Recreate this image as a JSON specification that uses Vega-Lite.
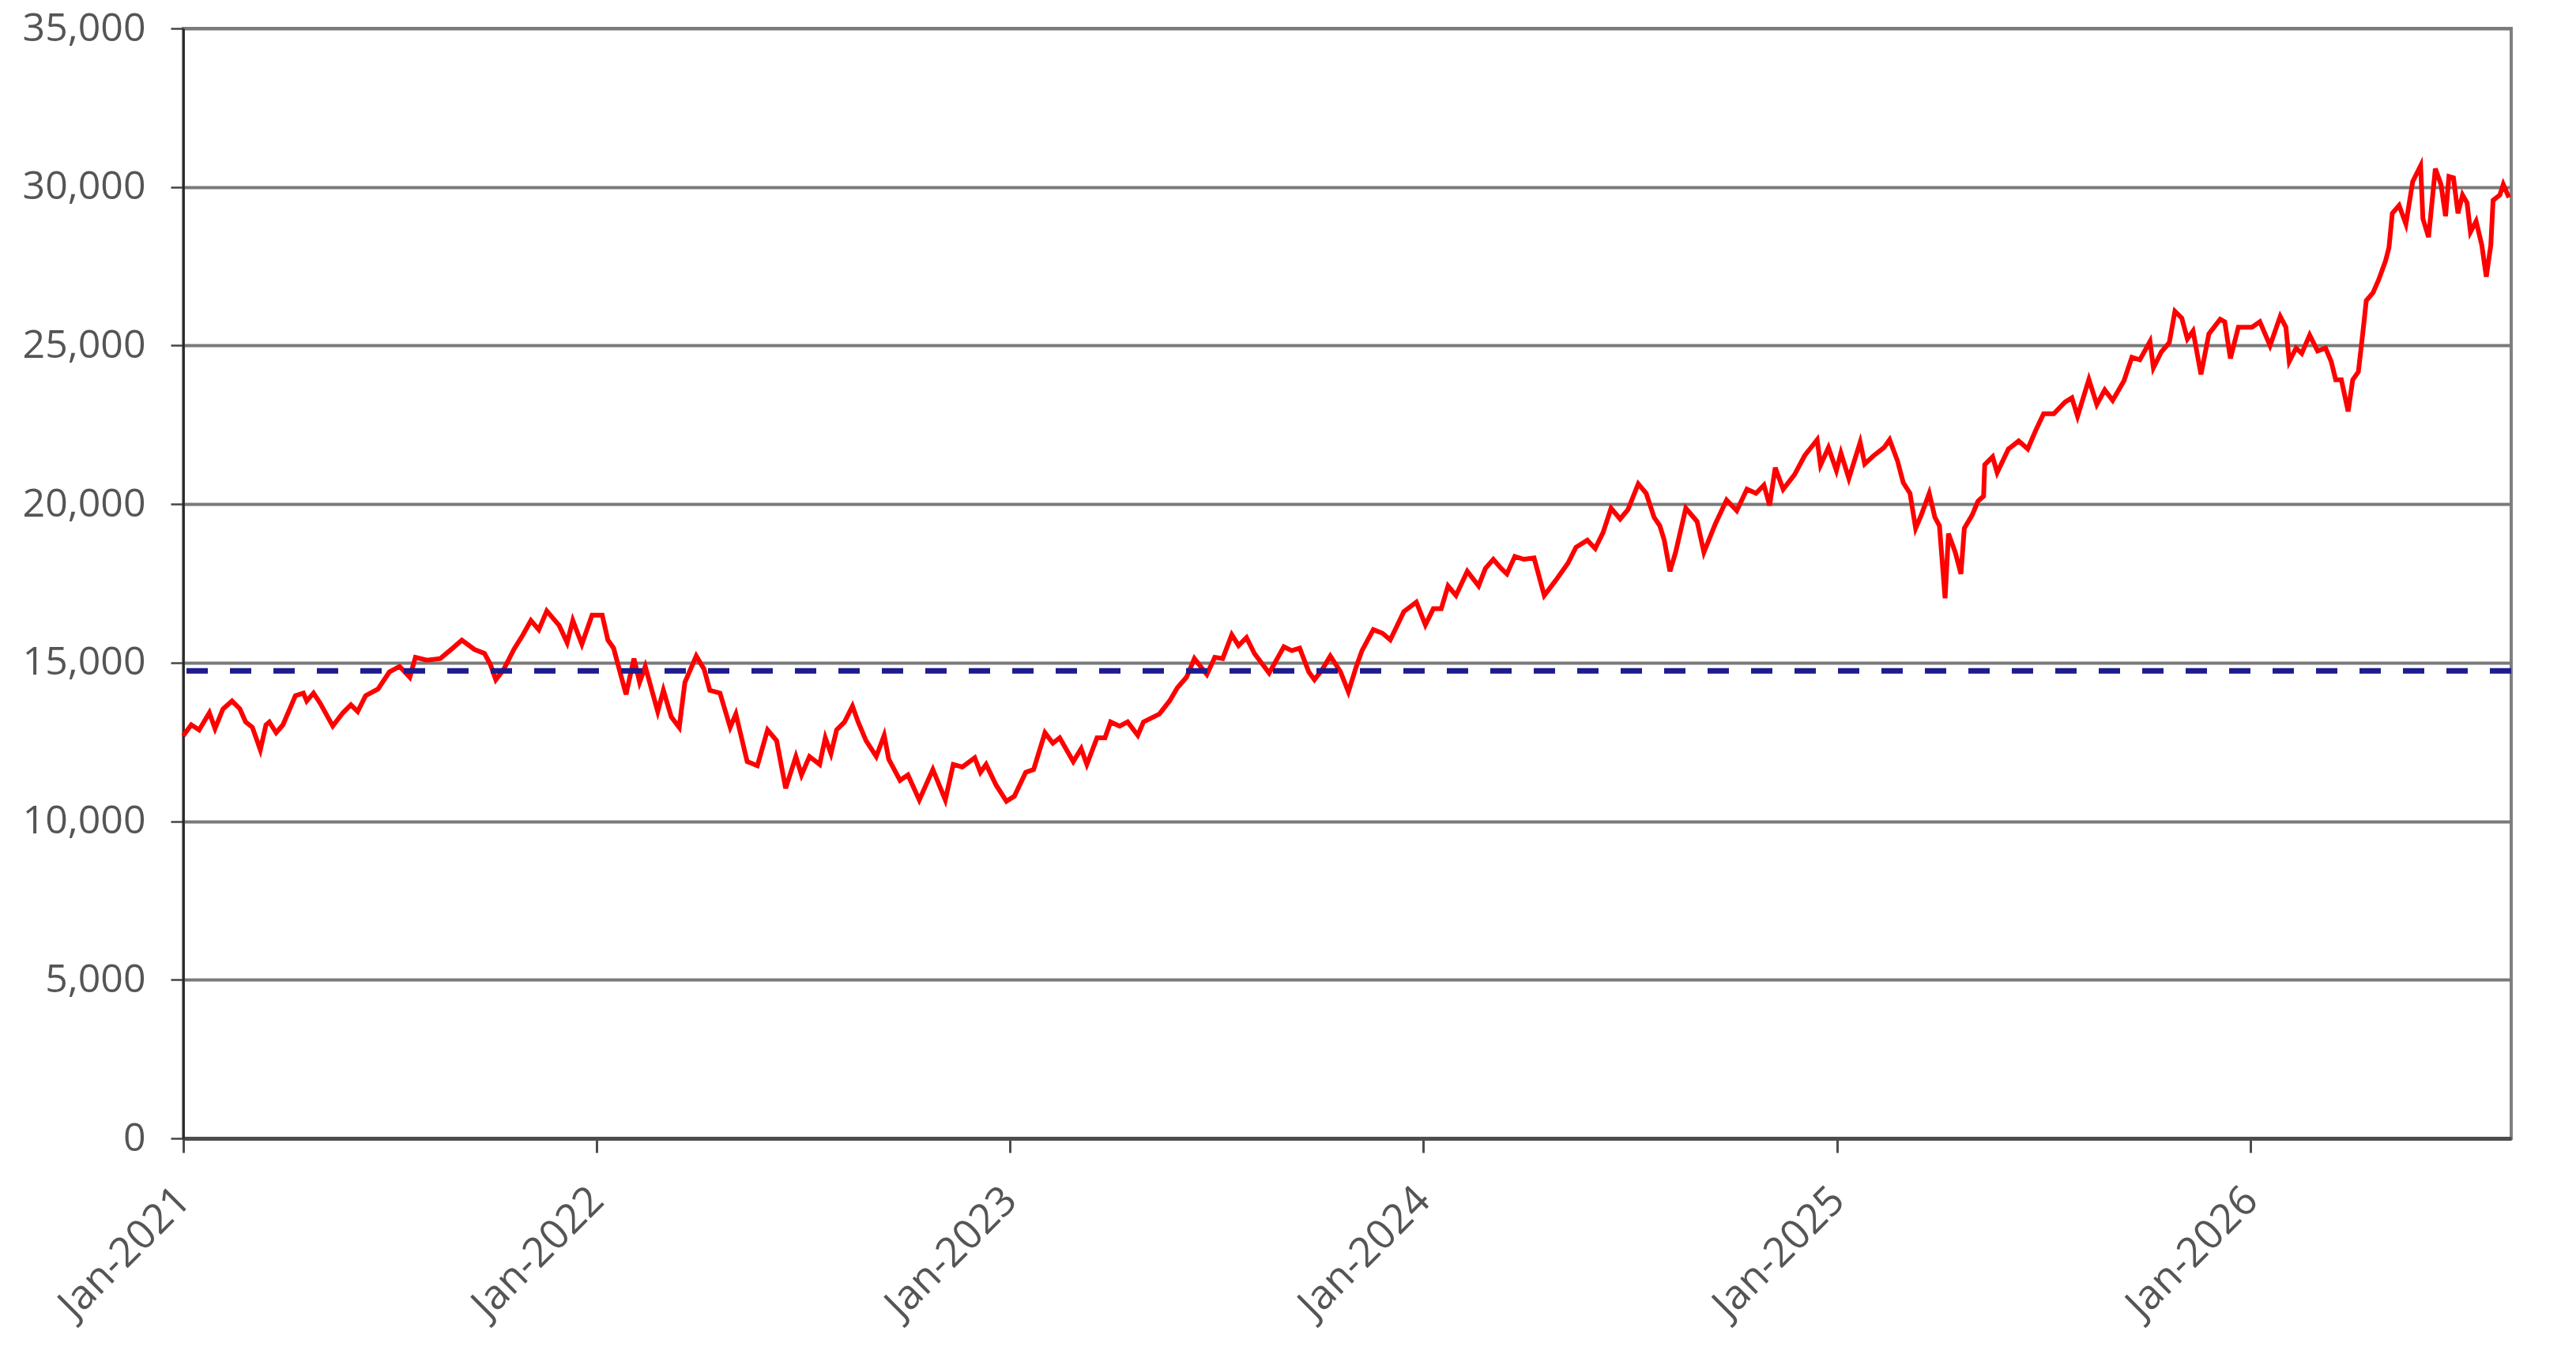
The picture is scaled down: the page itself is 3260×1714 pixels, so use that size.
{
  "$schema": "https://vega.github.io/schema/vega-lite/v6.json",
  "width": 2946,
  "height": 1405,
  "autosize": {"type": "none"},
  "padding": {"left": 232, "top": 36, "right": 82, "bottom": 273},
  "background": "white",
  "config": {
    "font": "Open Sans",
    "view": {"stroke": "#808080", "strokeWidth": 4}
  },
  "layer": [
    {
      "data": {
        "values": [
          {"date": "2021-01-01", "value": 12700},
          {"date": "2021-01-08", "value": 13040},
          {"date": "2021-01-15", "value": 12880},
          {"date": "2021-01-24", "value": 13420},
          {"date": "2021-01-29", "value": 12920},
          {"date": "2021-02-05", "value": 13540},
          {"date": "2021-02-13", "value": 13790},
          {"date": "2021-02-20", "value": 13540},
          {"date": "2021-02-25", "value": 13130},
          {"date": "2021-03-03", "value": 12960},
          {"date": "2021-03-10", "value": 12250},
          {"date": "2021-03-15", "value": 13040},
          {"date": "2021-03-18", "value": 13130},
          {"date": "2021-03-24", "value": 12790},
          {"date": "2021-03-30", "value": 13040},
          {"date": "2021-04-10", "value": 13960},
          {"date": "2021-04-17", "value": 14040},
          {"date": "2021-04-20", "value": 13790},
          {"date": "2021-04-26", "value": 14040},
          {"date": "2021-05-02", "value": 13710},
          {"date": "2021-05-13", "value": 13000},
          {"date": "2021-05-22", "value": 13420},
          {"date": "2021-05-29", "value": 13670},
          {"date": "2021-06-04", "value": 13460},
          {"date": "2021-06-11", "value": 13960},
          {"date": "2021-06-22", "value": 14170},
          {"date": "2021-07-02", "value": 14710},
          {"date": "2021-07-11", "value": 14880},
          {"date": "2021-07-20", "value": 14540},
          {"date": "2021-07-25", "value": 15170},
          {"date": "2021-08-04", "value": 15080},
          {"date": "2021-08-16", "value": 15130},
          {"date": "2021-08-27", "value": 15460},
          {"date": "2021-09-04", "value": 15710},
          {"date": "2021-09-15", "value": 15420},
          {"date": "2021-09-24", "value": 15290},
          {"date": "2021-09-29", "value": 14960},
          {"date": "2021-10-04", "value": 14460},
          {"date": "2021-10-11", "value": 14790},
          {"date": "2021-10-20", "value": 15420},
          {"date": "2021-10-28", "value": 15880},
          {"date": "2021-11-04", "value": 16330},
          {"date": "2021-11-11", "value": 16040},
          {"date": "2021-11-18", "value": 16630},
          {"date": "2021-11-29", "value": 16170},
          {"date": "2021-12-06", "value": 15630},
          {"date": "2021-12-11", "value": 16330},
          {"date": "2021-12-19", "value": 15580},
          {"date": "2021-12-28", "value": 16500},
          {"date": "2022-01-06", "value": 16500},
          {"date": "2022-01-11", "value": 15710},
          {"date": "2022-01-16", "value": 15460},
          {"date": "2022-01-27", "value": 14000},
          {"date": "2022-02-03", "value": 15130},
          {"date": "2022-02-08", "value": 14380},
          {"date": "2022-02-13", "value": 14880},
          {"date": "2022-02-24", "value": 13460},
          {"date": "2022-03-01", "value": 14130},
          {"date": "2022-03-08", "value": 13290},
          {"date": "2022-03-15", "value": 12960},
          {"date": "2022-03-20", "value": 14380},
          {"date": "2022-03-30", "value": 15210},
          {"date": "2022-04-06", "value": 14790},
          {"date": "2022-04-11", "value": 14130},
          {"date": "2022-04-20", "value": 14040},
          {"date": "2022-04-29", "value": 12960},
          {"date": "2022-05-04", "value": 13380},
          {"date": "2022-05-14", "value": 11880},
          {"date": "2022-05-23", "value": 11750},
          {"date": "2022-06-01", "value": 12880},
          {"date": "2022-06-09", "value": 12540},
          {"date": "2022-06-17", "value": 11040},
          {"date": "2022-06-26", "value": 12040},
          {"date": "2022-07-01", "value": 11460},
          {"date": "2022-07-08", "value": 12040},
          {"date": "2022-07-17", "value": 11790},
          {"date": "2022-07-22", "value": 12630},
          {"date": "2022-07-27", "value": 12130},
          {"date": "2022-08-01", "value": 12880},
          {"date": "2022-08-08", "value": 13130},
          {"date": "2022-08-15", "value": 13630},
          {"date": "2022-08-20", "value": 13130},
          {"date": "2022-08-27", "value": 12540},
          {"date": "2022-09-05", "value": 12040},
          {"date": "2022-09-12", "value": 12710},
          {"date": "2022-09-16", "value": 11960},
          {"date": "2022-09-26", "value": 11290},
          {"date": "2022-10-03", "value": 11460},
          {"date": "2022-10-13", "value": 10670},
          {"date": "2022-10-25", "value": 11630},
          {"date": "2022-11-05", "value": 10670},
          {"date": "2022-11-12", "value": 11790},
          {"date": "2022-11-20", "value": 11710},
          {"date": "2022-12-01", "value": 12000},
          {"date": "2022-12-06", "value": 11540},
          {"date": "2022-12-11", "value": 11790},
          {"date": "2022-12-20", "value": 11130},
          {"date": "2022-12-29", "value": 10630},
          {"date": "2023-01-05", "value": 10790},
          {"date": "2023-01-15", "value": 11540},
          {"date": "2023-01-22", "value": 11630},
          {"date": "2023-02-01", "value": 12790},
          {"date": "2023-02-08", "value": 12460},
          {"date": "2023-02-14", "value": 12630},
          {"date": "2023-02-26", "value": 11880},
          {"date": "2023-03-05", "value": 12290},
          {"date": "2023-03-10", "value": 11790},
          {"date": "2023-03-19", "value": 12630},
          {"date": "2023-03-26", "value": 12630},
          {"date": "2023-03-31", "value": 13130},
          {"date": "2023-04-08", "value": 13000},
          {"date": "2023-04-15", "value": 13130},
          {"date": "2023-04-24", "value": 12710},
          {"date": "2023-04-29", "value": 13130},
          {"date": "2023-05-13", "value": 13380},
          {"date": "2023-05-22", "value": 13790},
          {"date": "2023-05-29", "value": 14210},
          {"date": "2023-06-06", "value": 14540},
          {"date": "2023-06-13", "value": 15130},
          {"date": "2023-06-24", "value": 14630},
          {"date": "2023-07-01", "value": 15170},
          {"date": "2023-07-08", "value": 15130},
          {"date": "2023-07-16", "value": 15880},
          {"date": "2023-07-22", "value": 15540},
          {"date": "2023-07-29", "value": 15790},
          {"date": "2023-08-05", "value": 15290},
          {"date": "2023-08-18", "value": 14670},
          {"date": "2023-08-31", "value": 15500},
          {"date": "2023-09-07", "value": 15380},
          {"date": "2023-09-14", "value": 15460},
          {"date": "2023-09-22", "value": 14710},
          {"date": "2023-09-27", "value": 14460},
          {"date": "2023-10-04", "value": 14790},
          {"date": "2023-10-11", "value": 15210},
          {"date": "2023-10-20", "value": 14710},
          {"date": "2023-10-27", "value": 14080},
          {"date": "2023-11-03", "value": 14880},
          {"date": "2023-11-08", "value": 15380},
          {"date": "2023-11-18", "value": 16040},
          {"date": "2023-11-26", "value": 15930},
          {"date": "2023-12-03", "value": 15720},
          {"date": "2023-12-15", "value": 16610},
          {"date": "2023-12-26", "value": 16910},
          {"date": "2024-01-03", "value": 16190},
          {"date": "2024-01-10", "value": 16700},
          {"date": "2024-01-17", "value": 16700},
          {"date": "2024-01-23", "value": 17420},
          {"date": "2024-01-30", "value": 17120},
          {"date": "2024-02-09", "value": 17880},
          {"date": "2024-02-19", "value": 17420},
          {"date": "2024-02-25", "value": 17970},
          {"date": "2024-03-03", "value": 18260},
          {"date": "2024-03-10", "value": 17970},
          {"date": "2024-03-15", "value": 17800},
          {"date": "2024-03-22", "value": 18350},
          {"date": "2024-03-30", "value": 18260},
          {"date": "2024-04-08", "value": 18300},
          {"date": "2024-04-17", "value": 17120},
          {"date": "2024-04-27", "value": 17590},
          {"date": "2024-05-08", "value": 18140},
          {"date": "2024-05-15", "value": 18640},
          {"date": "2024-05-25", "value": 18860},
          {"date": "2024-06-01", "value": 18600},
          {"date": "2024-06-08", "value": 19110},
          {"date": "2024-06-15", "value": 19870},
          {"date": "2024-06-23", "value": 19530},
          {"date": "2024-06-30", "value": 19830},
          {"date": "2024-07-09", "value": 20640},
          {"date": "2024-07-16", "value": 20340},
          {"date": "2024-07-23", "value": 19580},
          {"date": "2024-07-28", "value": 19320},
          {"date": "2024-08-01", "value": 18860},
          {"date": "2024-08-06", "value": 17880},
          {"date": "2024-08-11", "value": 18480},
          {"date": "2024-08-20", "value": 19870},
          {"date": "2024-08-30", "value": 19450},
          {"date": "2024-09-05", "value": 18480},
          {"date": "2024-09-15", "value": 19370},
          {"date": "2024-09-25", "value": 20130},
          {"date": "2024-10-04", "value": 19790},
          {"date": "2024-10-13", "value": 20470},
          {"date": "2024-10-21", "value": 20340},
          {"date": "2024-10-28", "value": 20600},
          {"date": "2024-11-02", "value": 19960},
          {"date": "2024-11-07", "value": 21150},
          {"date": "2024-11-14", "value": 20470},
          {"date": "2024-11-24", "value": 20930},
          {"date": "2024-12-03", "value": 21530},
          {"date": "2024-12-14", "value": 22030},
          {"date": "2024-12-17", "value": 21230},
          {"date": "2024-12-24", "value": 21780},
          {"date": "2024-12-31", "value": 21060},
          {"date": "2025-01-04", "value": 21610},
          {"date": "2025-01-11", "value": 20810},
          {"date": "2025-01-21", "value": 21950},
          {"date": "2025-01-25", "value": 21270},
          {"date": "2025-02-02", "value": 21530},
          {"date": "2025-02-11", "value": 21780},
          {"date": "2025-02-16", "value": 22030},
          {"date": "2025-02-23", "value": 21360},
          {"date": "2025-02-28", "value": 20680},
          {"date": "2025-03-06", "value": 20340},
          {"date": "2025-03-11", "value": 19240},
          {"date": "2025-03-16", "value": 19660},
          {"date": "2025-03-23", "value": 20340},
          {"date": "2025-03-28", "value": 19580},
          {"date": "2025-04-01", "value": 19320},
          {"date": "2025-04-06", "value": 17030},
          {"date": "2025-04-09", "value": 19070},
          {"date": "2025-04-15", "value": 18480},
          {"date": "2025-04-20", "value": 17800},
          {"date": "2025-04-23", "value": 19240},
          {"date": "2025-04-30", "value": 19660},
          {"date": "2025-05-05", "value": 20090},
          {"date": "2025-05-10", "value": 20250},
          {"date": "2025-05-11", "value": 21240},
          {"date": "2025-05-18", "value": 21490},
          {"date": "2025-05-22", "value": 20990},
          {"date": "2025-06-01", "value": 21740},
          {"date": "2025-06-10", "value": 21990},
          {"date": "2025-06-18", "value": 21740},
          {"date": "2025-06-25", "value": 22320},
          {"date": "2025-07-02", "value": 22850},
          {"date": "2025-07-11", "value": 22850},
          {"date": "2025-07-21", "value": 23220},
          {"date": "2025-07-27", "value": 23350},
          {"date": "2025-08-01", "value": 22770},
          {"date": "2025-08-11", "value": 23930},
          {"date": "2025-08-18", "value": 23140},
          {"date": "2025-08-25", "value": 23600},
          {"date": "2025-09-01", "value": 23270},
          {"date": "2025-09-11", "value": 23890},
          {"date": "2025-09-18", "value": 24630},
          {"date": "2025-09-25", "value": 24550},
          {"date": "2025-10-04", "value": 25130},
          {"date": "2025-10-07", "value": 24300},
          {"date": "2025-10-14", "value": 24800},
          {"date": "2025-10-21", "value": 25090},
          {"date": "2025-10-26", "value": 26080},
          {"date": "2025-11-01", "value": 25870},
          {"date": "2025-11-06", "value": 25210},
          {"date": "2025-11-11", "value": 25460},
          {"date": "2025-11-18", "value": 24090},
          {"date": "2025-11-25", "value": 25370},
          {"date": "2025-12-05", "value": 25830},
          {"date": "2025-12-09", "value": 25750},
          {"date": "2025-12-14", "value": 24590},
          {"date": "2025-12-21", "value": 25580},
          {"date": "2026-01-02", "value": 25580},
          {"date": "2026-01-09", "value": 25750},
          {"date": "2026-01-18", "value": 25000},
          {"date": "2026-01-27", "value": 25920},
          {"date": "2026-02-01", "value": 25580},
          {"date": "2026-02-04", "value": 24500},
          {"date": "2026-02-10", "value": 24920},
          {"date": "2026-02-15", "value": 24750},
          {"date": "2026-02-22", "value": 25330},
          {"date": "2026-03-01", "value": 24830},
          {"date": "2026-03-08", "value": 24920},
          {"date": "2026-03-13", "value": 24500},
          {"date": "2026-03-17", "value": 23920},
          {"date": "2026-03-22", "value": 23920},
          {"date": "2026-03-28", "value": 22920},
          {"date": "2026-04-01", "value": 23920},
          {"date": "2026-04-06", "value": 24170},
          {"date": "2026-04-10", "value": 25420},
          {"date": "2026-04-13", "value": 26420},
          {"date": "2026-04-19", "value": 26670},
          {"date": "2026-04-24", "value": 27080},
          {"date": "2026-04-30", "value": 27670},
          {"date": "2026-05-03", "value": 28080},
          {"date": "2026-05-06", "value": 29170},
          {"date": "2026-05-12", "value": 29420},
          {"date": "2026-05-18", "value": 28830},
          {"date": "2026-05-24", "value": 30170},
          {"date": "2026-05-31", "value": 30670},
          {"date": "2026-06-02", "value": 29000},
          {"date": "2026-06-07", "value": 28420},
          {"date": "2026-06-13", "value": 30580},
          {"date": "2026-06-18", "value": 30080},
          {"date": "2026-06-22", "value": 29080},
          {"date": "2026-06-25", "value": 30330},
          {"date": "2026-06-29", "value": 30290},
          {"date": "2026-07-03", "value": 29170},
          {"date": "2026-07-07", "value": 29750},
          {"date": "2026-07-11", "value": 29500},
          {"date": "2026-07-14", "value": 28580},
          {"date": "2026-07-19", "value": 28920},
          {"date": "2026-07-24", "value": 28170},
          {"date": "2026-07-28", "value": 27170},
          {"date": "2026-08-01", "value": 28170},
          {"date": "2026-08-03", "value": 29580},
          {"date": "2026-08-09", "value": 29750},
          {"date": "2026-08-12", "value": 30080},
          {"date": "2026-08-17", "value": 29670}
        ]
      },
      "mark": {"type": "line", "color": "#ff0000", "strokeWidth": 6},
      "encoding": {
        "x": {
          "field": "date",
          "type": "temporal",
          "scale": {
            "type": "utc",
            "domain": [
              {"year": 2021, "month": 1, "date": 1, "utc": true},
              {"year": 2026, "month": 8, "date": 19, "utc": true}
            ]
          },
          "axis": {
            "title": null,
            "grid": false,
            "values": [
              {"year": 2021, "month": 1, "date": 1, "utc": true},
              {"year": 2022, "month": 1, "date": 1, "utc": true},
              {"year": 2023, "month": 1, "date": 1, "utc": true},
              {"year": 2024, "month": 1, "date": 1, "utc": true},
              {"year": 2025, "month": 1, "date": 1, "utc": true},
              {"year": 2026, "month": 1, "date": 1, "utc": true}
            ],
            "format": "%b-%Y",
            "labelAngle": -45,
            "labelAlign": "right",
            "labelBaseline": "middle",
            "labelFontSize": 52,
            "labelColor": "#555555",
            "labelPadding": 52,
            "labelLimit": 0,
            "labelFlush": false,
            "labelOverlap": false,
            "domainColor": "#4d4d4d",
            "domainWidth": 5,
            "tickColor": "#4d4d4d",
            "tickWidth": 3,
            "tickSize": 18
          }
        },
        "y": {
          "field": "value",
          "type": "quantitative",
          "scale": {"domain": [0, 35000], "nice": false},
          "axis": {
            "title": null,
            "values": [0, 5000, 10000, 15000, 20000, 25000, 30000, 35000],
            "format": ",d",
            "grid": true,
            "gridColor": "#7a7a7a",
            "gridWidth": 4,
            "domainColor": "#222222",
            "domainWidth": 2.5,
            "tickColor": "#444444",
            "tickWidth": 2.5,
            "tickSize": 16,
            "labelFontSize": 50,
            "labelColor": "#555555",
            "labelPadding": 32,
            "labelLimit": 0
          }
        }
      }
    },
    {
      "data": {"values": [{"level": 14740}]},
      "mark": {"type": "rule", "color": "#1c1c8f", "strokeWidth": 7, "strokeDash": [27, 28]},
      "encoding": {
        "y": {"field": "level", "type": "quantitative"}
      }
    }
  ]
}
